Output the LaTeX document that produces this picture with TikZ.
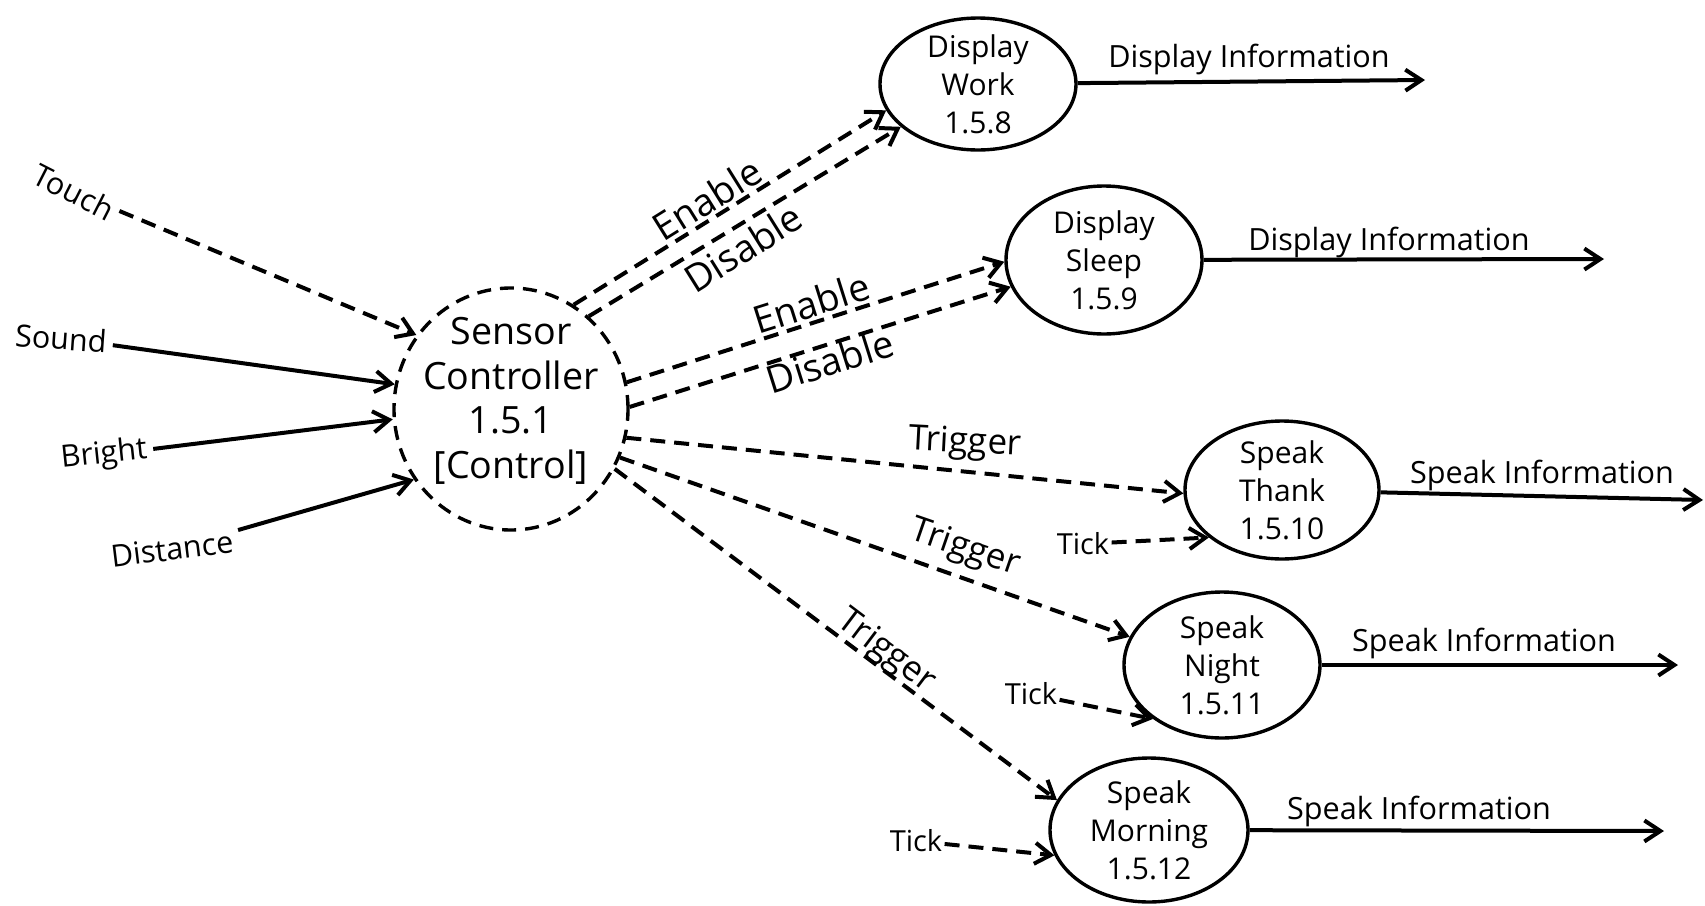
\documentclass[tikz,border=0pt]{standalone}
\usepackage{fontspec}
\setmainfont{Open Sans}
\usetikzlibrary{arrows.meta,shapes.geometric}
\begin{document}
\begin{tikzpicture}[x=0.5pt,y=-0.5pt,
  proc/.style={ellipse, draw, line width=1.7pt, inner sep=-8pt, align=center,
    font=\fontsize{15}{19}\selectfont},
  ctrl/.style={proc, dash pattern=on 7pt off 4.5pt,
    font=\fontsize{18.8}{22.3}\selectfont},
  flow/.style={line width=2pt, -{Straight Barb[length=8pt,width=10.5pt,line width=2pt]}},
  dflow/.style={flow, dash pattern=on 7.5pt off 4.5pt},
  inlab/.style={font=\fontsize{15.3}{18}\selectfont, inner sep=3pt},
  outlab/.style={font=\fontsize{15.3}{18}\selectfont, inner sep=0pt},
  ticklab/.style={font=\fontsize{14.5}{18}\selectfont, inner sep=1pt},
  elab/.style={font=\fontsize{19}{22}\selectfont, inner sep=0pt},
  tlab/.style={font=\fontsize{17.5}{22}\selectfont, inner sep=0pt}
]
\useasboundingbox (0,0) rectangle (1705,906);

% processes
\node[ctrl, minimum width=117pt, minimum height=121pt] (sc) at (511,409)
  {Sensor\\Controller\\1.5.1\\{[Control]}\rule[-11pt]{0pt}{1pt}};
\node[proc, minimum width=98pt, minimum height=66pt] (dw) at (978,84) {Display\\Work\\1.5.8};
\node[proc, minimum width=98pt, minimum height=74pt] (ds) at (1104,260) {Display\\Sleep\\1.5.9};
\node[proc, minimum width=97pt, minimum height=69pt] (st) at (1282,490) {Speak\\Thank\\1.5.10};
\node[proc, minimum width=98pt, minimum height=73pt] (sn) at (1222,665) {Speak\\Night\\1.5.11};
\node[proc, minimum width=99pt, minimum height=72pt] (sm) at (1149,830) {Speak\\Morning\\1.5.12};

% inputs
\node[inlab, rotate=-27] (touch) at (74,192) {Touch};
\node[inlab, rotate=-4] (sound) at (61,338) {Sound};
\node[inlab, rotate=6] (bright) at (104,455) {Bright};
\node[inlab, rotate=7] (dist) at (172,549) {Distance};
\draw[dflow] (touch) -- (sc.142);
\draw[flow] (sound) -- (sc.168);
\draw[flow] (bright) -- (sc.185);
\draw[flow] (dist) -- (sc.216);

% control flows
\draw[dflow] (sc.59) -- (dw.196);
\draw[dflow] (sc.50) -- (dw.209);
\draw[dflow] (sc.13) -- (ds.181);
\draw[dflow] (sc.1.5) -- (ds.196);
\draw[dflow] (sc.-14) -- (st.182);
\draw[dflow] (sc.-24.5) -- (sn.163);
\draw[dflow] (sc.-30.6) -- (sm.162);
\node[elab, rotate=32] (en1) at (707,199) {Enable};
\node[elab, rotate=32] (di1) at (743,248) {Disable};
\node[elab, rotate=17.5] (en2) at (811,303) {Enable};
\node[elab, rotate=17.5] (di2) at (830,361) {Disable};
\node[tlab, rotate=-3] (tr1) at (965,444) {Trigger};
\node[tlab, rotate=-19] (tr2) at (965,549) {Trigger};
\node[tlab, rotate=-37] (tr3) at (886,652) {Trigger};

% ticks
\node[ticklab] (tk1) at (1083,544) {Tick};
\node[ticklab] (tk2) at (1031,694) {Tick};
\node[ticklab] (tk3) at (916,841) {Tick};
\draw[dflow] (tk1) -- (st.213);
\draw[dflow] (tk2) -- (sn.218);
\draw[dflow] (tk3) -- (sm.195);

% outputs
\coordinate (dwo) at (1425,80);
\coordinate (dso) at (1604,259);
\coordinate (sto) at (1703,500);
\coordinate (sno) at (1678,665);
\coordinate (smo) at (1664,831);
\draw[flow] (dw) -- (dwo);
\draw[flow] (ds) -- (dso);
\draw[flow] (st) -- (sto);
\draw[flow] (sn) -- (sno);
\draw[flow] (sm) -- (smo);
\node[outlab] (dwi) at (1249,59) {Display Information};
\node[outlab] (dsi) at (1389,242) {Display Information};
\node[outlab] (sti) at (1542,475) {Speak Information};
\node[outlab] (sni) at (1484,643) {Speak Information};
\node[outlab] (smi) at (1419,811) {Speak Information};
\end{tikzpicture}
\end{document}
